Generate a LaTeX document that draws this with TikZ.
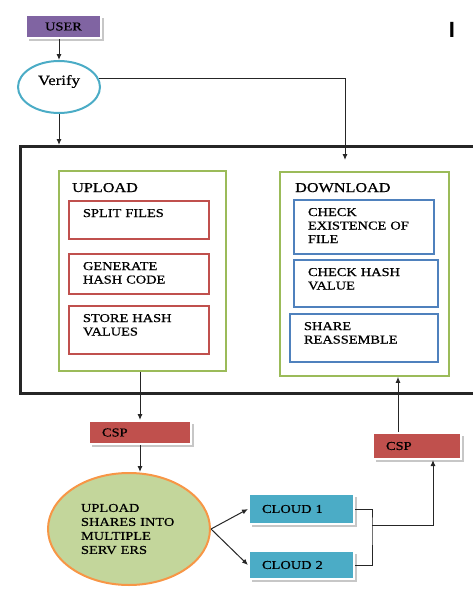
\documentclass[tikz,border=0pt]{standalone}
\usepackage{fontspec}
\setmainfont{Liberation Serif}[FakeStretch=1.2,FakeBold=0.7]
\newfontfamily\barfont{Liberation Sans}
\usetikzlibrary{arrows,arrows.meta,shapes,shadows,positioning}
\definecolor{userpurple}{HTML}{8064A2}
\definecolor{stepred}{HTML}{C0504D}
\definecolor{stepblue}{HTML}{4F81BD}
\definecolor{phasegreen}{HTML}{9BBB59}
\definecolor{cloudcyan}{HTML}{4BACC6}
\definecolor{shareorange}{HTML}{F79646}
\definecolor{sharegreen}{HTML}{C3D69B}
\tikzstyle{link}=[->,>={Latex[length=6pt,width=5pt]},line width=1pt,draw=black!85]
\tikzstyle{wire}=[line width=1pt,draw=black!85]
\tikzstyle{phase}=[draw=phasegreen,line width=1.8pt,anchor=north west,inner sep=0pt]
\tikzstyle{phaselabel}=[anchor=base west,inner sep=0pt,font=\fontsize{13.5}{15}\selectfont]
\tikzstyle{redstep}=[draw=stepred,line width=2pt,anchor=north west,align=left,
               text width=112pt,inner xsep=14pt,inner ysep=8pt,text height=8pt]
\tikzstyle{bluestep}=[draw=stepblue,line width=2pt,anchor=north west,align=left,
               inner xsep=14pt,inner ysep=8pt,text height=8pt]
\tikzstyle{tag}=[anchor=north west,align=left,draw=white,line width=2pt,
               inner xsep=13pt,inner ysep=0pt,
               drop shadow={shadow xshift=2.5pt,shadow yshift=-2.5pt,fill=black!22,opacity=1}]

\begin{document}
\begin{tikzpicture}[x=1pt,y=-1pt,font=\fontsize{12}{13.5}\selectfont]
        \useasboundingbox (0,0) rectangle (473,590);
        \node [draw=black!85,line width=2.6pt,anchor=north west,minimum width=461pt,minimum height=247pt] (main) at (19,145) {};
        \node [tag,fill=userpurple,align=center,text width=49pt,minimum height=23pt] (user) at (25,14) {USER};
        \node [ellipse,draw=cloudcyan,line width=2pt,minimum width=82pt,minimum height=52pt,text depth=14pt,
               font=\fontsize{14}{16}\selectfont] (verify) at (59,87) {Verify};
        \node [font=\barfont\bfseries\fontsize{22}{22}\selectfont] (mark) at (452,30) {I};
        \draw[link] (user.south -| verify) -- (verify);
        \draw[link] (verify) -- (verify |- main.north);
        \coordinate (dlin) at (345,160);
        \draw[link] (verify.12) -| (dlin);

        \node [phase,minimum width=167pt,minimum height=200pt] (upload) at (58,170) {};
        \node [phaselabel] (uplabel) at (72,192) {UPLOAD};
        \node [redstep,text depth=14pt] (split) at (68,200) {SPLIT FILES};
        \node [redstep,text depth=16pt] (generate) at (68,253) {GENERATE\\HASH CODE};
        \node [redstep,text depth=24pt] (store) at (68,305) {STORE HASH\\VALUES};

        \node [phase,minimum width=169pt,minimum height=204pt] (download) at (279,171) {};
        \node [phaselabel] (downlabel) at (295,192) {DOWNLOAD};
        \node [bluestep,text width=112pt,text depth=30pt] (exist) at (293,199) {CHECK\\EXISTENCE OF\\FILE};
        \node [bluestep,text width=116pt,text depth=23pt] (chkhash) at (293,259) {CHECK HASH\\VALUE};
        \node [bluestep,text width=120pt,text depth=24pt] (share) at (289,313) {SHARE\\REASSEMBLE};

        \node [tag,fill=stepred,text width=76pt,minimum height=23pt] (csp1) at (88,420) {CSP};
        \node [tag,fill=stepred,text width=62pt,minimum height=26pt] (csp2) at (372,432) {CSP};
        \node [ellipse,draw=shareorange,fill=sharegreen,line width=2pt,minimum width=162pt,minimum height=112pt,
               text width=96pt,align=left,font=\fontsize{12}{14}\selectfont] (servers) at (129,529) {UPLOAD\\SHARES INTO\\MULTIPLE\\SERV ERS};
        \node [tag,fill=cloudcyan,text width=79pt,minimum height=30pt] (cloud1) at (248,493) {CLOUD 1};
        \node [tag,fill=cloudcyan,text width=79pt,minimum height=28pt] (cloud2) at (248,550) {CLOUD 2};

        \draw[link] (upload.south -| csp1) -- (csp1);
        \draw[link] (csp1) -- (csp1 |- servers.north);
        \draw[link] (servers.east) -- (cloud1.west);
        \draw[link] (servers.east) -- (cloud2.west);
        \coordinate (join) at (372,525);
        \draw[wire] (cloud1.east) -| (join) |- (cloud2.east);
        \draw[link] (join) -| ([xshift=16pt]csp2.south);
        \draw[link] ([xshift=-19pt]csp2.north) -- ([xshift=-19pt]csp2.north |- download.south);
    \end{tikzpicture}
\end{document}
